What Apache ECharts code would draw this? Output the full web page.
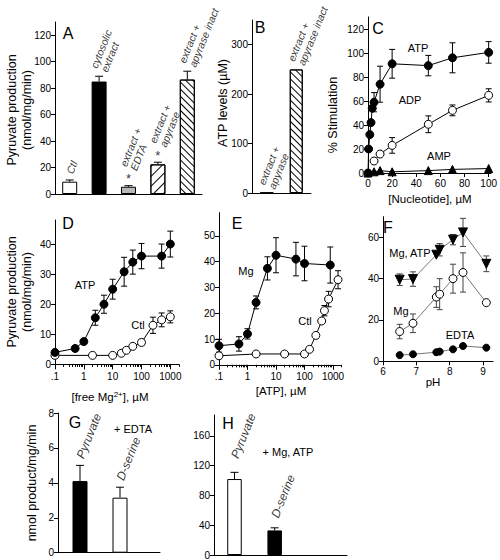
<!DOCTYPE html>
<html><head><meta charset="utf-8">
<script src="https://cdn.jsdelivr.net/npm/echarts@6/dist/echarts.min.js"></script>
<style>html,body{margin:0;padding:0;background:#fff;overflow:hidden}#c{width:500px;height:560px}</style>
</head><body><div id="c"></div>
<script>
// ---------- DATA ----------
// Panel A
const aCats = ['Ctl', 'cytosolic\nextract', 'extract +\nEDTA', 'extract +\napyrase', 'extract +\napyrase inact'];
const aVals = [9.3, 85, 5.5, 22.4, 86.5];
const aErr  = [1.3, 4, 0.8, 1.6, 6.3];
const aSig  = [false, false, true, true, false];
const aYTicks = [0, 20, 40, 60, 80, 100, 120];
// Panel B
const bCats = ['extract +\napyrase', 'extract +\napyrase inact'];
const bVals = [0, 250];
const bYTicks = [0, 100, 200, 300];
// Panel C
const cXTicks = [0, 20, 40, 60, 80, 100];
const cYTicks = [0, 20, 40, 60, 80, 100, 120];
const cAtpX = [0, 0.5, 1.5, 2.5, 3.5, 5, 10, 20, 50, 70, 100];
const cAtpY = [0, 20, 32, 42, 54, 59, 74, 91, 89.5, 96, 100.5];
const cAtpE = [0, 0, 0, 0, 0, 8, 15, 12, 8.5, 12.5, 9];
const cAdpX = [5, 10, 20, 50, 70, 100];
const cAdpY = [10, 15.8, 23, 40.6, 52.2, 64.7];
const cAdpE = [0, 0, 6.5, 7, 4.5, 5.5];
const cAmpX = [0, 5, 10, 20, 50, 70, 100];
const cAmpY = [0, 1, 2, 1, 2, 3, 3.7];
// Panel D
const logMajors = [0.1, 1, 10, 100, 1000];
const logMinors = [0.2,0.3,0.4,0.5,0.6,0.7,0.8,0.9,2,3,4,5,6,7,8,9,20,30,40,50,60,70,80,90,200,300,400,500,600,700,800,900,2000];
const dYTicks = [0, 10, 20, 30, 40];
const dAtpX = [0.1, 0.5, 1, 2.5, 5, 10, 25, 50, 100, 500, 1000];
const dAtpY = [4, 5.3, 7.6, 15.5, 20, 25, 30.8, 34, 36, 36, 40];
const dAtpE = [0, 0, 0, 2.5, 3, 3.3, 4.8, 4, 4.2, 4, 4.3];
const dCtlX = [0.1, 2, 10, 20, 30, 50, 100, 250, 500, 1000];
const dCtlY = [3, 3, 3, 3.7, 4.7, 6, 7.3, 13, 14.8, 15.8];
const dCtlE = [0, 0, 0, 0, 0, 0, 1, 2.7, 2.3, 2];
// Panel E
const eYTicks = [0, 10, 20, 30, 40, 50];
const eMgX = [0.1, 0.5, 1, 2, 5, 10, 50, 100, 800];
const eMgY = [7.4, 8.1, 12, 24.2, 37.4, 42.5, 41, 39.3, 38.7];
const eMgE = [2.5, 2.8, 2, 2.5, 4.5, 6.8, 6.5, 6.7, 7];
const eCtlX = [0.1, 2, 20, 100, 150, 250, 400, 500, 700, 1500];
const eCtlY = [3.5, 4.2, 4.2, 4.2, 6, 11.4, 17, 21, 25.5, 33];
const eCtlE = [0, 0, 0, 0, 0, 0, 0, 2, 3, 3.5];
// Panel F
const fXTicks = [6, 7, 8, 9];
const fYTicks = [0, 20, 40, 60];
const fPH = [6.5, 6.9, 7.6, 7.7, 8.1, 8.4, 9.1];
const fMgAtpY = [39.5, 39.8, 51.6, 54, 58.9, 62.4, 47.2];
const fMgAtpE = [2.8, 3.5, 0, 3, 2.5, 6.8, 3.8];
const fMgY = [14.4, 18.4, 31.1, 32.5, 40, 43, 28.4];
const fMgE = [3.5, 4.5, 5, 7.5, 7, 9.5, 0];
const fEdtaY = [3, 3.4, 4.4, 4.7, 5.8, 7.4, 6.6];
// Panel G
const gCats = ['Pyruvate', 'D-serine'];
const gVals = [4.1, 3.15];
const gErr = [0.9, 0.6];
const gYTicks = [0, 2, 4, 6, 8];
// Panel H
const hCats = ['Pyruvate', 'D-serine'];
const hVals = [102, 33];
const hErr = [9, 3.5];
const hYTicks = [0, 40, 80, 120, 160];

// ---------- HELPERS ----------
const FONT = '"Liberation Sans", Arial, sans-serif';
const BLACK = '#000';
const grid = [], xAxis = [], yAxis = [], series = [], graphic = [];

function gridAdd(l, t, w, h) {
  grid.push({left: l, top: t, width: w, height: h, containLabel: false});
  return grid.length - 1;
}
function yVal(gi, min, max, ticks) {
  yAxis.push({gridIndex: gi, type: 'value', min, max, position: 'left',
    axisLine: {show: true, onZero: false, lineStyle: {color: BLACK, width: 1}},
    axisTick: {show: true, length: 4, customValues: ticks, lineStyle: {color: BLACK, width: 1}},
    axisLabel: {show: true, customValues: ticks, color: BLACK, fontSize: 10, fontFamily: FONT, margin: 4},
    splitLine: {show: false}});
  return yAxis.length - 1;
}
function xCat(gi, cats) {
  xAxis.push({gridIndex: gi, type: 'category', data: cats, boundaryGap: true, position: 'bottom',
    axisLine: {show: true, onZero: false, lineStyle: {color: BLACK, width: 1}},
    axisTick: {show: false}, axisLabel: {show: false}, splitLine: {show: false}});
  return xAxis.length - 1;
}
function xVal(gi, min, max, ticks) {
  const o = {gridIndex: gi, type: 'value', min, max, position: 'bottom',
    axisLine: {show: true, onZero: false, lineStyle: {color: BLACK, width: 1}},
    axisTick: {show: false}, axisLabel: {show: false}, splitLine: {show: false}};
  if (ticks) {
    o.axisTick = {show: true, length: 4, customValues: ticks, lineStyle: {color: BLACK}};
    o.axisLabel = {show: true, customValues: ticks, color: BLACK, fontSize: 10, fontFamily: FONT, margin: 5};
  }
  xAxis.push(o);
  return xAxis.length - 1;
}
function xLog(gi, min, max) {
  const fmt = v => (v < 0.5 ? '.1' : String(Math.round(v)));
  xAxis.push({gridIndex: gi, type: 'log', logBase: 10, min, max, position: 'bottom',
    axisLine: {show: true, onZero: false, lineStyle: {color: BLACK, width: 1}},
    axisTick: {show: true, length: 2.5, customValues: logMinors, lineStyle: {color: BLACK}},
    axisLabel: {show: true, customValues: logMajors, formatter: fmt, color: BLACK, fontSize: 10, fontFamily: FONT, margin: 7},
    splitLine: {show: false}});
  const main = xAxis.length - 1;
  xAxis.push({gridIndex: gi, type: 'log', logBase: 10, min, max, position: 'bottom',
    axisLine: {show: false}, axisTick: {show: true, length: 5, customValues: logMajors, lineStyle: {color: BLACK}},
    axisLabel: {show: false}, splitLine: {show: false}});
  return main;
}
function errS(xi, yi, xs, ys, es, opts = {}) {
  const cap = opts.cap ?? 3, two = opts.two ?? true, col = opts.color || BLACK;
  return {type: 'custom', xAxisIndex: xi, yAxisIndex: yi, z: 1, silent: true, clip: false,
    data: xs.map((x, i) => [x, ys[i], es[i]]), encode: {x: 0, y: 1},
    renderItem: (params, api) => {
      const x = api.value(0), y = api.value(1), e = api.value(2);
      if (!e) return null;
      const t = api.coord([x, y + e]), b = api.coord([x, two ? y - e : y]);
      const st = {stroke: col, lineWidth: 1};
      const ch = [{type: 'line', shape: {x1: t[0], y1: t[1], x2: b[0], y2: b[1]}, style: st},
                  {type: 'line', shape: {x1: t[0] - cap, y1: t[1], x2: t[0] + cap, y2: t[1]}, style: st}];
      if (two) ch.push({type: 'line', shape: {x1: b[0] - cap, y1: b[1], x2: b[0] + cap, y2: b[1]}, style: st});
      return {type: 'group', children: ch};
    }};
}
function lineS(xi, yi, xs, ys, o = {}) {
  return {type: 'line', xAxisIndex: xi, yAxisIndex: yi, data: xs.map((x, i) => [x, ys[i]]),
    symbol: o.symbol || 'circle', symbolSize: o.size || 8, symbolRotate: o.rotate || 0,
    showSymbol: true, showAllSymbol: true, clip: false, z: 3, silent: true,
    lineStyle: {color: o.lineColor || BLACK, width: 1},
    itemStyle: {color: o.filled ? BLACK : '#fff', borderColor: BLACK, borderWidth: 1, opacity: 1},
    emphasis: {disabled: true}};
}
function catLabels(xi, yi, names, xs, tops, dists, fs, lh) {
  return {type: 'scatter', xAxisIndex: xi, yAxisIndex: yi, symbol: 'circle', symbolSize: 1, silent: true, z: 5, clip: false,
    itemStyle: {color: 'rgba(0,0,0,0)'},
    data: tops.map((t, i) => ({value: [xs[i], t], label: {distance: dists[i]}})),
    label: {show: true, position: 'top', rotate: 68, align: 'left', verticalAlign: 'middle',
      formatter: p => names[p.dataIndex], fontSize: fs, lineHeight: lh, fontStyle: 'italic', fontFamily: FONT, color: BLACK}};
}
function txt(x, y, s, fs, o = {}) {
  graphic.push({type: 'text', x, y, rotation: o.rot || 0, silent: true, z: 10,
    style: {text: s, fill: BLACK, font: `${o.weight || 'normal'} ${fs}px ${FONT}`, align: o.align || 'center', verticalAlign: 'middle',
      lineHeight: o.lh || fs + 2, rich: o.rich}});
}
const hatch = (rot, gap) => ({color: '#fff', borderColor: BLACK, borderWidth: 1,
  decal: {symbol: 'rect', symbolSize: 1, color: BLACK, backgroundColor: '#fff', dashArrayX: [1, 0], dashArrayY: [1, gap], rotation: rot}});
const solid = c => ({color: c, borderColor: BLACK, borderWidth: 1});
const idx = arr => arr.map((v, i) => i);        // category index
const slot = arr => arr.map((v, i) => i + 1);   // 1-based slot on a plain value axis

// ---------- PANEL A ----------
{
  const gi = gridAdd(55, 22, 147, 172);
  const xi = xCat(gi, aCats), yi = yVal(gi, 0, 130, aYTicks);
  const styles = [solid('#fff'), solid('#000'), solid('#b8b8b8'), hatch(-Math.PI / 4, 5.5), hatch(Math.PI / 4, 3.3)];
  series.push({type: 'bar', xAxisIndex: xi, yAxisIndex: yi, barWidth: 15, silent: true, z: 2,
    data: aVals.map((v, i) => ({value: v, itemStyle: styles[i]}))});
  series.push(errS(xi, yi, idx(aVals), aVals, aErr, {two: false, cap: 4}));
  const tops = aVals.map((v, i) => v + aErr[i]);
  series.push(catLabels(xi, yi, aCats, idx(aVals), tops, aSig.map(s => (s ? 17 : 6)), 10.5, 11));
  series.push({type: 'scatter', xAxisIndex: xi, yAxisIndex: yi, symbolSize: 1, silent: true, itemStyle: {color: 'rgba(0,0,0,0)'},
    data: tops.map((t, i) => (aSig[i] ? [i, t] : [i, '-'])),
    label: {show: true, position: 'top', distance: 0, formatter: '*', fontSize: 13, fontFamily: FONT, color: BLACK}});
  txt(68, 33, 'A', 16);
  txt(19, 110, 'Pyruvate production\n(nmol/mg/min)', 12.5, {rot: Math.PI / 2, lh: 15});
}
// ---------- PANEL B ----------
{
  const gi = gridAdd(252, 20, 59, 173);
  const xi = xCat(gi, bCats), yi = yVal(gi, 0, 350, bYTicks);
  series.push({type: 'bar', xAxisIndex: xi, yAxisIndex: yi, barWidth: 13, silent: true,
    data: bVals.map(v => ({value: v, itemStyle: hatch(Math.PI / 4, 3.3)}))});
  series.push(catLabels(xi, yi, bCats, idx(bVals), bVals, [6, 6], 10.5, 11));
  txt(260, 27, 'B', 16);
  txt(223, 103, 'ATP levels (µM)', 12.5, {rot: Math.PI / 2});
}
// ---------- PANEL C ----------
{
  const gi = gridAdd(368, 17, 127.5, 156);
  const xi = xVal(gi, 0, 102, cXTicks), yi = yVal(gi, 0, 130, cYTicks);
  series.push(errS(xi, yi, cAtpX, cAtpY, cAtpE));
  series.push(errS(xi, yi, cAdpX, cAdpY, cAdpE));
  series.push(lineS(xi, yi, cAmpX, cAmpY, {filled: true, symbol: 'triangle', size: 8}));
  series.push(lineS(xi, yi, cAdpX, cAdpY, {filled: false}));
  series.push(lineS(xi, yi, cAtpX, cAtpY, {filled: true}));
  txt(378, 28, 'C', 16);
  txt(333, 115, '% Stimulation', 12.5, {rot: Math.PI / 2});
  txt(430, 199, '[Nucleotide], µM', 11.5);
  txt(418, 48, 'ATP', 11); txt(410, 100, 'ADP', 11); txt(439, 156, 'AMP', 11);
}
// ---------- PANEL D ----------
{
  const gi = gridAdd(55, 220, 124, 144.4);
  const xi = xLog(gi, 0.1, 2000), yi = yVal(gi, 0, 48, dYTicks);
  series.push(errS(xi, yi, dAtpX, dAtpY, dAtpE));
  series.push(errS(xi, yi, dCtlX, dCtlY, dCtlE));
  series.push(lineS(xi, yi, dCtlX, dCtlY, {filled: false}));
  series.push(lineS(xi, yi, dAtpX, dAtpY, {filled: true}));
  txt(68, 223, 'D', 16);
  txt(19, 292, 'Pyruvate production\n(nmol/mg/min)', 12.5, {rot: Math.PI / 2, lh: 15});
  txt(110, 397, '[free Mg{s|2+}], µM', 11.5, {rich: {s: {fontSize: 8, verticalAlign: 'top', fontFamily: FONT, padding: [0, 0, 6, 0]}}});
  txt(85, 285, 'ATP', 11); txt(138, 325, 'Ctl', 11);
}
// ---------- PANEL E ----------
{
  const gi = gridAdd(219, 212.7, 122.6, 152.1);
  const xi = xLog(gi, 0.1, 2000), yi = yVal(gi, 0, 59, eYTicks);
  series.push(errS(xi, yi, eMgX, eMgY, eMgE));
  series.push(errS(xi, yi, eCtlX, eCtlY, eCtlE));
  series.push(lineS(xi, yi, eCtlX, eCtlY, {filled: false}));
  series.push(lineS(xi, yi, eMgX, eMgY, {filled: true}));
  txt(237, 223, 'E', 16);
  txt(281, 391, '[ATP], µM', 11.5);
  txt(246, 271, 'Mg', 11); txt(305, 321, 'Ctl', 11);
}
// ---------- PANEL F ----------
{
  const gi = gridAdd(383, 216.7, 110, 144.6);
  const xi = xVal(gi, 6, 9.3, fXTicks), yi = yVal(gi, 0, 70, fYTicks);
  const gray = '#777';
  series.push(errS(xi, yi, fPH, fMgAtpY, fMgAtpE, {color: '#444'}));
  series.push(errS(xi, yi, fPH, fMgY, fMgE, {color: '#444'}));
  series.push(lineS(xi, yi, fPH, fEdtaY, {filled: true, size: 7, lineColor: gray}));
  series.push(lineS(xi, yi, fPH, fMgY, {filled: false, lineColor: gray}));
  series.push(lineS(xi, yi, fPH, fMgAtpY, {filled: true, symbol: 'triangle', rotate: 180, size: 9, lineColor: gray}));
  txt(388, 227, 'F', 16);
  txt(433, 382, 'pH', 11.5);
  txt(410, 253, 'Mg, ATP', 11); txt(401, 311, 'Mg', 11); txt(460, 335, 'EDTA', 11);
}
// ---------- PANEL G ----------
{
  const gi = gridAdd(58, 413, 102, 139.7);
  const xi = xVal(gi, 0.45, 3.0, null), yi = yVal(gi, 0, 8, gYTicks);
  const st = [solid('#000'), solid('#fff')];
  const xs = slot(gVals);
  series.push({type: 'bar', xAxisIndex: xi, yAxisIndex: yi, barWidth: 15, silent: true,
    data: gVals.map((v, i) => ({value: [xs[i], v], itemStyle: st[i]}))});
  series.push(errS(xi, yi, xs, gVals, gErr, {two: false, cap: 4}));
  series.push(catLabels(xi, yi, gCats, xs, gVals.map((v, i) => v + gErr[i]), [7, 7], 12, 13));
  txt(75, 422, 'G', 16);
  txt(32, 483, 'nmol product/mg/min', 12.5, {rot: Math.PI / 2});
  txt(133, 429, '+ EDTA', 11);
}
// ---------- PANEL H ----------
{
  const gi = gridAdd(214, 415, 133, 140);
  const xi = xVal(gi, 0.49, 3.8, null), yi = yVal(gi, 0, 188, hYTicks);
  const st = [solid('#fff'), solid('#000')];
  const xs = slot(hVals);
  series.push({type: 'bar', xAxisIndex: xi, yAxisIndex: yi, barWidth: 14.5, silent: true,
    data: hVals.map((v, i) => ({value: [xs[i], v], itemStyle: st[i]}))});
  series.push(errS(xi, yi, xs, hVals, hErr, {two: false, cap: 4}));
  series.push(catLabels(xi, yi, hCats, xs, hVals.map((v, i) => v + hErr[i]), [14, 10], 12, 13));
  txt(228, 423, 'H', 16);
  txt(288, 452, '+ Mg, ATP', 11);
}

const chart = echarts.init(document.getElementById('c'), null, {renderer: 'svg', width: 500, height: 560});
chart.setOption({animation: false, backgroundColor: '#fff', textStyle: {fontFamily: FONT},
  grid, xAxis, yAxis, series, graphic, tooltip: {show: false}});
</script></body></html>
